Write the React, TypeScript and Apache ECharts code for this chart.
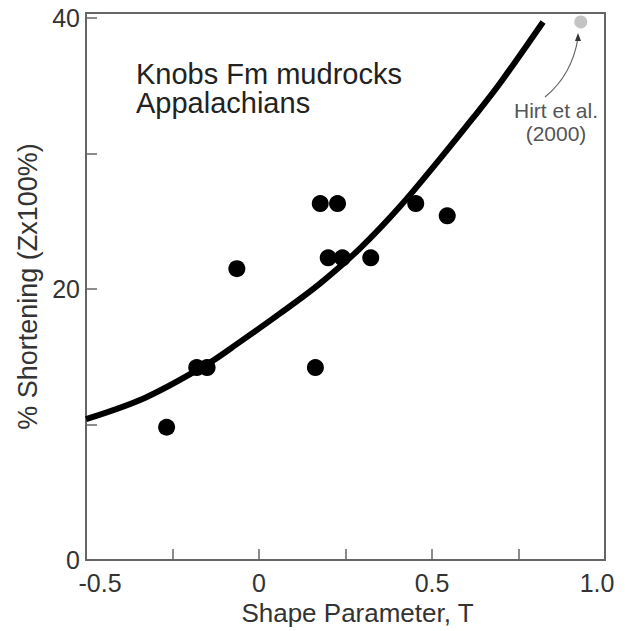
import React, { useEffect, useRef } from "react";
import * as echarts from "echarts";

const curveX = [-0.5, -0.327, -0.153, -0.055, 0.061, 0.176, 0.292, 0.408, 0.523, 0.618, 0.697, 0.821];
const curveY = [10.4, 12.0, 14.4, 16.1, 18.2, 20.4, 23.0, 26.1, 29.6, 32.6, 35.2, 39.7];

const pointX = [-0.267, -0.18, -0.15, -0.064, 0.163, 0.177, 0.227, 0.2, 0.241, 0.323, 0.453, 0.544];
const pointY = [9.8, 14.2, 14.2, 21.5, 14.2, 26.3, 26.3, 22.3, 22.3, 22.3, 26.3, 25.4];

const hirtX = [0.93];
const hirtY = [39.7];

const titleLines = ["Knobs Fm mudrocks", "Appalachians"];
const hirtLabel = ["Hirt et al.", "(2000)"];

const FONT = "Liberation Sans, Arial, Helvetica, sans-serif";

export default function App() {
  const ref = useRef<HTMLDivElement>(null);
  useEffect(() => {
    if (!ref.current) return;
    const chart = echarts.init(ref.current, undefined, { renderer: "svg" });
    chart.setOption({
      animation: false,
      backgroundColor: "#ffffff",
      grid: {
        left: 86,
        top: 13,
        width: 519,
        height: 555,
        show: true,
        borderColor: "#666",
        borderWidth: 2,
        backgroundColor: "transparent",
      },
      xAxis: {
        type: "value",
        min: -0.5,
        max: 1.0,
        interval: 0.25,
        splitLine: { show: false },
        axisLine: { onZero: false, lineStyle: { color: "#666", width: 2 } },
        axisTick: { inside: true, length: 11, lineStyle: { color: "#666", width: 1.5 } },
        axisLabel: {
          color: "#333",
          fontSize: 25,
          fontFamily: FONT,
          margin: 10,
          rich: {
            neg: { fontSize: 25, fontFamily: FONT, color: "#333", padding: [0, 0, 0, 28] },
            end: { fontSize: 25, fontFamily: FONT, color: "#333", padding: [0, 16, 0, 0] },
          },
          formatter: (v: number) => {
            const d = v * 2;
            if (Math.abs(d - Math.round(d)) > 1e-6) return "";
            if (Math.abs(v) < 1e-9) return "0";
            if (Math.abs(v - 1) < 1e-9) return "{end|1.0}";
            if (v < 0) return "{neg|" + String(Math.round(v * 10) / 10) + "}";
            return String(Math.round(v * 10) / 10);
          },
        },
        name: "Shape Parameter, T",
        nameLocation: "middle",
        nameGap: 31,
        nameTextStyle: { color: "#333", fontSize: 26, fontFamily: FONT, padding: [0, 0, 0, 24] },
      },
      yAxis: {
        type: "value",
        min: 0,
        max: 40.36,
        interval: 10,
        splitLine: { show: false },
        axisLine: { onZero: false, lineStyle: { color: "#666", width: 2 } },
        axisTick: { inside: true, length: 11, lineStyle: { color: "#666", width: 1.5 } },
        axisLabel: {
          color: "#333",
          fontSize: 25,
          fontFamily: FONT,
          margin: 6,
          formatter: (v: number) => (Math.abs(v / 20 - Math.round(v / 20)) < 1e-6 ? String(Math.round(v)) : ""),
        },
        name: "% Shortening (Zx100%)",
        nameLocation: "middle",
        nameGap: 44,
        nameTextStyle: { color: "#333", fontSize: 27, fontFamily: FONT, padding: [0, 0, 0, 0] },
      },
      series: [
        {
          type: "line",
          data: curveX.map((x, i) => [x, curveY[i]]),
          smooth: 0.35,
          symbol: "none",
          lineStyle: { color: "#000", width: 6 },
          z: 2,
        },
        {
          type: "scatter",
          data: pointX.map((x, i) => [x, pointY[i]]),
          symbolSize: 17,
          itemStyle: { color: "#000", opacity: 1 },
          z: 3,
        },
        {
          type: "scatter",
          data: hirtX.map((x, i) => [x, hirtY[i]]),
          symbolSize: 13,
          itemStyle: { color: "#c4c4c4", opacity: 1 },
          z: 3,
        },
      ],
      graphic: [
        {
          type: "text",
          left: 136,
          top: 59,
          style: {
            text: titleLines.join("\n"),
            font: `29px ${FONT}`,
            fill: "#222",
            lineHeight: 29,
          },
        },
        {
          type: "text",
          x: 556,
          y: 99,
          style: {
            text: hirtLabel.join("\n"),
            font: `21px ${FONT}`,
            fill: "#555",
            align: "center",
            verticalAlign: "top",
            lineHeight: 23,
          },
        },
        {
          type: "bezierCurve",
          shape: { x1: 545, y1: 97, x2: 578, y2: 38, cpx1: 572, cpy1: 75 },
          style: { stroke: "#666", lineWidth: 1.2, fill: "none" },
        },
        {
          type: "polygon",
          shape: { points: [[578, 33], [575, 41], [581, 41]] },
          style: { fill: "#333" },
        },
      ],
    });
    return () => chart.dispose();
  }, []);
  return (
    <div
      ref={ref}
      style={{ position: "fixed", left: 0, top: 0, width: 626, height: 631, background: "#fff" }}
    />
  );
}
